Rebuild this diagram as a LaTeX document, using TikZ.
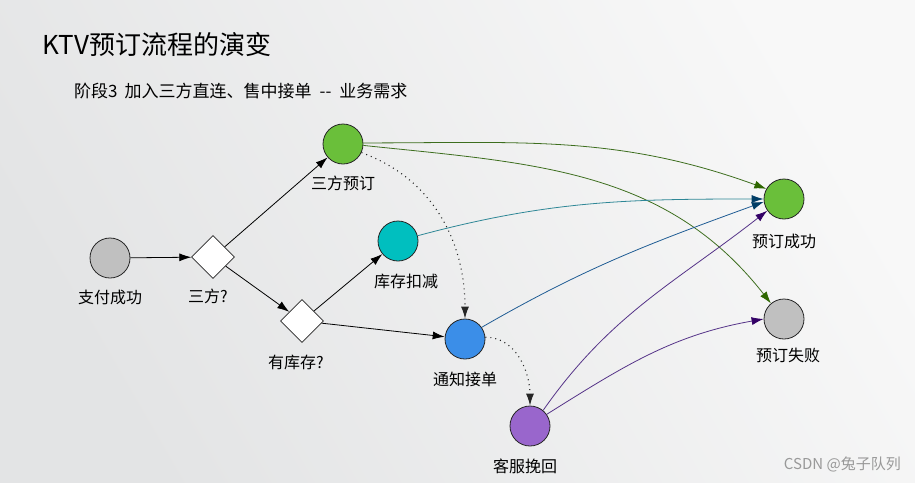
\documentclass[tikz,border=0pt]{standalone}
\usepackage{fontspec}
\setmainfont{Noto Sans CJK SC}
\usepackage{xcolor}
\usetikzlibrary{arrows.meta,shapes.geometric}

\definecolor{bgdark}{HTML}{E3E4E5}
\definecolor{bglight}{HTML}{F8F8F8}
\definecolor{okgreen}{HTML}{6ABF3A}
\definecolor{stockteal}{HTML}{00BFBF}
\definecolor{notifyblue}{HTML}{3B8EE8}
\definecolor{rescuepurple}{HTML}{9966CC}
\definecolor{idlegray}{HTML}{C0C0C0}
\definecolor{greenline}{HTML}{3D6E1E}
\definecolor{greentip}{HTML}{2E6600}
\definecolor{tealline}{HTML}{2E8796}
\definecolor{blueline}{HTML}{1F5C94}
\definecolor{bluetip}{HTML}{003D66}
\definecolor{purpleline}{HTML}{553388}
\definecolor{purpletip}{HTML}{330066}

\begin{document}
\begin{tikzpicture}[
    x=1pt, y=-1pt,
    state/.style={
        circle, draw=black!85, line width=0.8pt,
        minimum size=40pt, inner sep=0pt, fill=#1
    },
    choice/.style={
        diamond, draw=black!85, line width=0.8pt, fill=white,
        minimum size=43pt, inner sep=0pt
    },
    caption/.style={
        font=\fontsize{16}{19}\selectfont, inner sep=0pt
    },
    flow/.style={
        -{Latex[length=12pt,width=8pt]}, line width=0.8pt, draw=black
    },
    hint/.style={
        -{Latex[length=12pt,width=8pt]}, line width=1.1pt, draw=black!85,
        dash pattern=on 1pt off 4pt
    },
    route/.style 2 args={
        -{Latex[length=12pt,width=8pt,color=#2]}, line width=0.8pt, draw=#1
    }
]

% — Background —
\shade[top color=bglight, bottom color=bgdark, shading angle=-60]
    (0,0) rectangle (915,482);
\useasboundingbox (0,0) rectangle (915,482);

% — Titles —
\node[anchor=west, inner sep=0pt, font=\fontsize{26}{30}\selectfont] (title)
    at (42,45) {KTV预订流程的演变};
\node[anchor=west, inner sep=0pt, font=\fontsize{17}{20}\selectfont] (subtitle)
    at (74,91) {阶段3\hspace{7pt}加入三方直连、售中接单\hspace{8pt}-{}-\hspace{8pt}业务需求};

% — States and choices —
\node[state=idlegray, label={[caption,label distance=11pt]below:支付成功}] (paid)
    at (110,258) {};
\node[choice, label={[caption,label distance=10pt,xshift=-5pt]below:三方?}] (third)
    at (213,257) {};
\node[choice, label={[caption,label distance=12pt,xshift=-6pt]below:有库存?}] (instock)
    at (302,321) {};
\node[state=okgreen, label={[caption,label distance=11pt]below:三方预订}] (tpbook)
    at (343,144) {};
\node[state=stockteal, label={[caption,label distance=12pt,xshift=8pt]below:库存扣减}] (deduct)
    at (398,241) {};
\node[state=notifyblue, label={[caption,label distance=12pt]below:通知接单}] (notify)
    at (465,339) {};
\node[state=rescuepurple, label={[caption,label distance=12pt,xshift=-5pt]below:客服挽回}] (rescue)
    at (530,426) {};
\node[state=okgreen, label={[caption,label distance=14pt]below:预订成功}] (success)
    at (784,199) {};
\node[state=idlegray, label={[caption,label distance=8pt,xshift=4pt]below:预订失败}] (fail)
    at (784,319) {};

% — Decision arrows —
\draw[flow] (paid) -- (third);
\draw[flow] (third) -- (tpbook);
\draw[flow] (third) -- (instock);
\draw[flow] (instock) -- (deduct);
\draw[flow] (instock) -- (notify);

% — Fallback (dotted) —
\draw[hint] (tpbook.-25) to[out=-20, in=90] (notify.north);
\draw[hint] (notify.5) to[out=0, in=90] (rescue.north);

% — Outcomes —
\draw[route={greenline}{greentip}] (tpbook.3) to[out=0, in=160] (success.150);
\draw[route={greenline}{greentip}] (tpbook.-4) to[out=-6, in=128] (fail.130);
\draw[route={tealline}{bluetip}] (deduct.15) to[out=15, in=180] (success.west);
\draw[route={blueline}{bluetip}] (notify.35) to[out=30, in=200] (success.188);
\draw[route={purpleline}{purpletip}] (rescue.50) to[out=55, in=218] (success.215);
\draw[route={purpleline}{purpletip}] (rescue.35) to[out=32, in=190] (fail.west);

% — Watermark —
\node[anchor=east, inner sep=0pt, text=black!40, font=\fontsize{15}{18}\selectfont] (mark)
    at (901,464) {CSDN @兔子队列};

\end{tikzpicture}
\end{document}
